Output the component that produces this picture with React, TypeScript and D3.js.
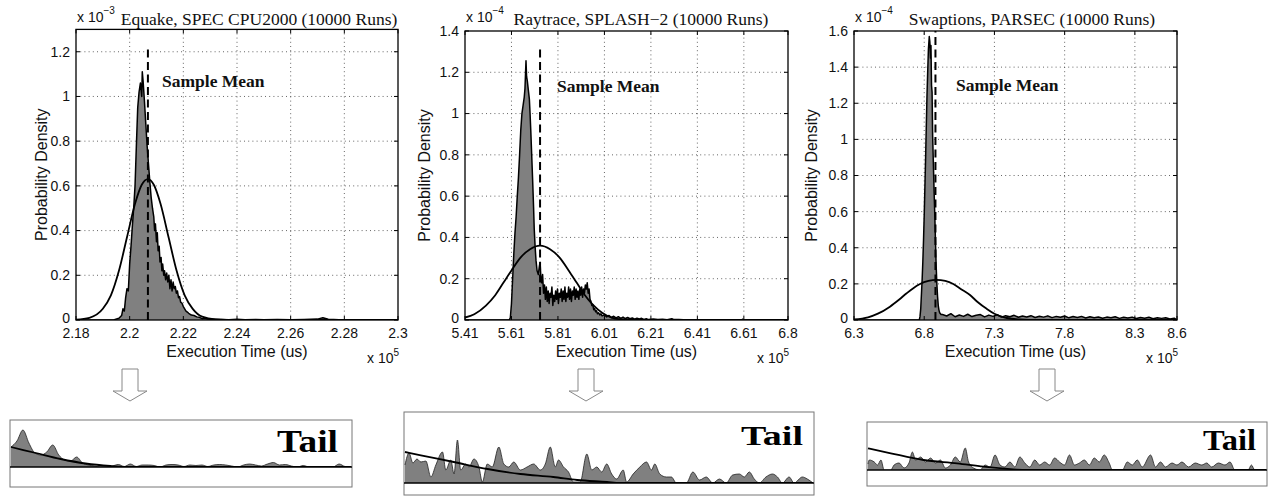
import React, { useEffect, useRef } from 'react'
import * as d3 from 'd3'

type Pt = [number, number]

// ---------- Equake (x in 1e5 us, density in 1e-3) ----------
const equakeXTicks = [2.18, 2.2, 2.22, 2.24, 2.26, 2.28, 2.3]
const equakeYTicks = [0, 0.2, 0.4, 0.6, 0.8, 1, 1.2]
const equakeHist: Pt[] = [
  [2.18, 0], [2.194, 0], [2.196, 0.008], [2.197, 0.02], [2.1975, 0.05], [2.198, 0.04], [2.1985, 0.1],
  [2.199, 0.14], [2.1995, 0.13], [2.2, 0.25], [2.2005, 0.33], [2.201, 0.42], [2.2015, 0.5], [2.202, 0.6],
  [2.2025, 0.78], [2.203, 0.95], [2.2035, 1.02], [2.204, 1.06], [2.2045, 1.0], [2.2047, 1.11], [2.205, 1.07],
  [2.2055, 0.98], [2.206, 0.88], [2.2065, 0.78], [2.207, 0.7], [2.2075, 0.62], [2.208, 0.55], [2.2085, 0.5],
  [2.209, 0.46], [2.2093, 0.4], [2.2096, 0.43], [2.21, 0.35], [2.2103, 0.39], [2.2106, 0.31], [2.211, 0.33],
  [2.2113, 0.26], [2.2117, 0.28], [2.212, 0.22], [2.2123, 0.25], [2.2127, 0.2], [2.213, 0.22], [2.2134, 0.18],
  [2.2138, 0.21], [2.2142, 0.17], [2.2146, 0.2], [2.215, 0.14], [2.2154, 0.18], [2.2158, 0.13], [2.2162, 0.17],
  [2.2166, 0.14], [2.217, 0.15], [2.2174, 0.12], [2.2178, 0.13], [2.2182, 0.1], [2.2186, 0.105], [2.219, 0.08],
  [2.2195, 0.075], [2.22, 0.06], [2.2205, 0.05], [2.221, 0.04], [2.2215, 0.035], [2.222, 0.03], [2.223, 0.022],
  [2.224, 0.02], [2.225, 0.014], [2.226, 0.012], [2.227, 0.006], [2.228, 0.008], [2.229, 0.004], [2.231, 0.003],
  [2.234, 0.002], [2.237, 0.001], [2.24, 0.003], [2.243, 0.001], [2.247, 0.002], [2.25, 0.001], [2.255, 0.002],
  [2.26, 0.001], [2.265, 0.002], [2.27, 0.004], [2.272, 0.01], [2.274, 0.003], [2.278, 0.001], [2.285, 0.001],
  [2.29, 0], [2.3, 0],
]
const equakeNormal: Pt[] = [
  [2.18, 0.002], [2.185, 0.01], [2.19, 0.05], [2.193, 0.11], [2.196, 0.22], [2.199, 0.37], [2.202, 0.52],
  [2.2045, 0.605], [2.2068, 0.63], [2.209, 0.605], [2.2115, 0.52], [2.2145, 0.37], [2.2175, 0.22],
  [2.2205, 0.11], [2.2235, 0.05], [2.227, 0.015], [2.232, 0.003], [2.24, 0], [2.3, 0],
]

// ---------- Raytrace (x in 1e5 us, density in 1e-4) ----------
const raytraceXTicks = [5.41, 5.61, 5.81, 6.01, 6.21, 6.41, 6.61, 6.8]
const raytraceYTicks = [0, 0.2, 0.4, 0.6, 0.8, 1, 1.2, 1.4]
const raytraceHist: Pt[] = [
  [5.41, 0], [5.6, 0], [5.605, 0.01], [5.61, 0.08], [5.615, 0.2], [5.62, 0.32], [5.625, 0.42], [5.63, 0.5],
  [5.635, 0.6], [5.64, 0.69], [5.645, 0.8], [5.65, 0.92], [5.655, 1.0], [5.66, 1.04], [5.665, 1.08],
  [5.668, 1.12], [5.6725, 1.256], [5.675, 1.18], [5.678, 1.16], [5.682, 1.12], [5.687, 1.07], [5.69, 1.0],
  [5.693, 0.92], [5.697, 0.8], [5.701, 0.68], [5.705, 0.55], [5.708, 0.44], [5.712, 0.35], [5.7155, 0.29],
  [5.72, 0.24], [5.7255, 0.22], [5.73, 0.26], [5.733, 0.28], [5.737, 0.2],
  [5.74, 0.18], [5.744, 0.22], [5.748, 0.13], [5.752, 0.17], [5.756, 0.1], [5.76, 0.16], [5.764, 0.09],
  [5.768, 0.14], [5.772, 0.08], [5.776, 0.13], [5.78, 0.11], [5.784, 0.16], [5.788, 0.07], [5.792, 0.12],
  [5.796, 0.09], [5.8, 0.14], [5.804, 0.1], [5.808, 0.15], [5.812, 0.08], [5.816, 0.13], [5.82, 0.11],
  [5.824, 0.15], [5.828, 0.09], [5.832, 0.14], [5.836, 0.1], [5.84, 0.16], [5.844, 0.09], [5.848, 0.13],
  [5.852, 0.11], [5.856, 0.16], [5.86, 0.1], [5.864, 0.15], [5.868, 0.09], [5.872, 0.14], [5.876, 0.12],
  [5.88, 0.16], [5.884, 0.1], [5.888, 0.15], [5.892, 0.11], [5.896, 0.14], [5.9, 0.1], [5.904, 0.15],
  [5.908, 0.12], [5.912, 0.16], [5.916, 0.11], [5.92, 0.15], [5.924, 0.13], [5.928, 0.17], [5.932, 0.15],
  [5.936, 0.18], [5.94, 0.13], [5.944, 0.15], [5.948, 0.1], [5.952, 0.09], [5.956, 0.07], [5.96, 0.075],
  [5.964, 0.05], [5.968, 0.055], [5.972, 0.04], [5.976, 0.045], [5.98, 0.03], [5.985, 0.035], [5.99, 0.025],
  [5.995, 0.03], [6.0, 0.02], [6.01, 0.025], [6.02, 0.015], [6.03, 0.022], [6.04, 0.012], [6.05, 0.018],
  [6.06, 0.01], [6.07, 0.016], [6.08, 0.008], [6.09, 0.014], [6.1, 0.007], [6.11, 0.012], [6.12, 0.006],
  [6.13, 0.01], [6.14, 0.004], [6.15, 0.009], [6.16, 0.005], [6.17, 0.008], [6.18, 0.003], [6.19, 0.006],
  [6.2, 0.002], [6.22, 0.005], [6.24, 0.002], [6.26, 0.004], [6.28, 0.001], [6.3, 0.006], [6.31, 0.002],
  [6.33, 0.003], [6.35, 0.001], [6.4, 0.001], [6.45, 0], [6.6, 0], [6.605, 0.004], [6.61, 0], [6.8, 0],
]
const raytraceNormal: Pt[] = [
  [5.41, 0.012], [5.45, 0.028], [5.5, 0.07], [5.54, 0.12], [5.575, 0.18], [5.61, 0.24], [5.647, 0.3],
  [5.69, 0.343], [5.733, 0.36], [5.776, 0.343], [5.819, 0.3], [5.856, 0.24], [5.891, 0.18], [5.926, 0.12],
  [5.962, 0.072], [6.0, 0.035], [6.04, 0.012], [6.09, 0.003], [6.2, 0], [6.8, 0],
]

// ---------- Swaptions (x in 1e5 us, density in 1e-4) ----------
const swaptionsXTicks = [6.3, 6.8, 7.3, 7.8, 8.3, 8.6]
const swaptionsYTicks = [0, 0.2, 0.4, 0.6, 0.8, 1, 1.2, 1.4, 1.6]
const swaptionsHist: Pt[] = [
  [6.3, 0], [6.765, 0], [6.77, 0.02], [6.775, 0.06], [6.78, 0.14], [6.785, 0.22], [6.79, 0.32], [6.795, 0.44],
  [6.8, 0.58], [6.805, 0.74], [6.81, 0.9], [6.815, 1.08], [6.82, 1.25], [6.825, 1.38], [6.83, 1.5],
  [6.836, 1.569], [6.84, 1.54], [6.845, 1.45], [6.848, 1.52], [6.852, 1.3], [6.856, 1.26], [6.86, 1.02],
  [6.865, 0.87], [6.87, 0.72], [6.875, 0.59], [6.88, 0.44], [6.885, 0.3], [6.89, 0.2], [6.895, 0.13],
  [6.9, 0.08], [6.905, 0.055], [6.91, 0.04], [6.92, 0.03],
  [6.93, 0.03], [6.96, 0.022], [6.99, 0.035], [7.02, 0.018], [7.05, 0.028], [7.08, 0.02], [7.11, 0.032],
  [7.14, 0.019], [7.17, 0.026], [7.2, 0.03], [7.23, 0.017], [7.26, 0.027], [7.29, 0.02], [7.32, 0.029],
  [7.35, 0.016], [7.38, 0.024], [7.41, 0.018], [7.44, 0.026], [7.47, 0.015], [7.5, 0.022], [7.53, 0.017],
  [7.56, 0.024], [7.59, 0.014], [7.62, 0.021], [7.65, 0.016], [7.68, 0.023], [7.71, 0.013], [7.74, 0.02],
  [7.77, 0.015], [7.8, 0.022], [7.83, 0.012], [7.86, 0.019], [7.89, 0.014], [7.92, 0.02], [7.95, 0.011],
  [7.98, 0.018], [8.01, 0.013], [8.04, 0.017], [8.07, 0.01], [8.1, 0.016], [8.13, 0.012], [8.16, 0.018],
  [8.19, 0.009], [8.22, 0.015], [8.25, 0.011], [8.28, 0.016], [8.31, 0.008], [8.34, 0.014], [8.37, 0.01],
  [8.4, 0.015], [8.43, 0.007], [8.46, 0.013], [8.49, 0.009], [8.52, 0.012], [8.55, 0.006], [8.58, 0.01],
  [8.6, 0],
]
const swaptionsNormal: Pt[] = [
  [6.3, 0.003], [6.4, 0.015], [6.47, 0.035], [6.556, 0.074], [6.62, 0.112], [6.675, 0.148], [6.72, 0.175],
  [6.77, 0.199], [6.83, 0.216], [6.885, 0.222], [6.95, 0.216], [7.007, 0.199], [7.06, 0.172], [7.126, 0.138],
  [7.18, 0.1], [7.245, 0.062], [7.3, 0.035], [7.363, 0.016], [7.42, 0.007], [7.482, 0.003], [7.6, 0], [8.6, 0],
]

// ---------- magnified tails (tail position, height) ----------
const equakeTail: Pt[] = [
  [0, 20], [6, 26], [12, 37], [18, 24], [24, 14], [30, 12], [36, 15], [42, 22], [48, 12], [54, 7], [60, 6],
  [66, 10], [72, 4], [78, 2], [84, 1], [90, 0], [96, 0], [102, 1], [108, 2.5], [114, 0.5], [120, 3], [126, 0.5],
  [132, 2], [138, 2], [144, 1.5], [150, 0], [156, 2], [162, 2.5], [168, 2], [174, 0.5], [180, 2], [186, 1.5],
  [192, 2], [198, 0.5], [204, 2], [210, 2.5], [216, 2], [222, 1], [228, 0], [234, 2], [240, 3], [246, 2],
  [252, 1], [258, 3], [264, 4.5], [270, 2], [276, 2.5], [282, 1], [288, 0], [294, 1.5], [300, 0], [324, 0],
  [330, 3], [336, 0.5], [342, 0],
]
const equakeTailFit: Pt[] = [[0, 20], [25, 14], [50, 8], [75, 3.5], [100, 1], [120, 0], [342, 0]]

const raytraceTail: Pt[] = [
  [0, 18], [4, 30], [8, 20], [12, 24], [16, 21], [21, 22], [26, 6], [31, 18], [37.7, 31], [41, 13], [46, 23],
  [49.3, 9], [52.7, 43], [56, 13], [61, 19], [64.3, 16], [69.3, 24], [74.3, 16], [77.7, 1], [82.7, 19],
  [87.7, 16], [94.3, 36], [99.3, 19], [104.3, 16], [109.3, 21], [116, 13], [122.7, 16], [129.3, 19], [136, 13],
  [141, 19], [146, 36], [151, 16], [154.3, 23], [159.3, 16], [164.3, 11], [169.3, 1], [176, 1], [182.7, 29],
  [187.7, 13], [192.7, 16], [197.7, 11], [202.7, 19], [207.7, 9], [212.7, 4], [219.3, 13], [222.7, 1],
  [229.3, 9], [236, 16], [242.7, 21], [247.7, 13], [251, 19], [256, 9], [262.7, 6], [267.7, 6], [272.7, 0],
  [282.7, 0], [289.3, 11], [296, 3], [302.7, 6], [309.3, 0], [316, 4], [322.7, 0], [329.3, 8], [336, 9],
  [341, 6], [346, 11], [351, 4], [356, 0], [362.7, 6], [369.3, 9], [374.3, 6], [379.3, 0], [386, 6], [391, 0],
  [399.3, 6], [404.3, 4], [410, 0],
]
const raytraceTailFit: Pt[] = [
  [0, 31], [16, 27.7], [49, 21], [83, 14], [116, 9], [149, 6], [173, 3], [203, 1], [216, 0], [410, 0],
]

const swaptionsTail: Pt[] = [
  [0, 6], [1.3, 10], [6.3, 8], [9.7, 5], [13, 10], [16.3, 0], [23, 0], [26.3, 5], [31.3, 7], [36.3, 2],
  [41.3, 7], [44.7, 18], [48, 10], [53, 13], [58, 8], [63, 12], [68, 7], [73, 10], [78, 2], [83, 5], [88, 13],
  [93, 8], [98, 22], [101.3, 8], [106.3, 2], [113, 0], [118, 5], [123, 3], [128, 15], [133, 5], [138, 3],
  [143, 8], [148, 3], [153, 13], [158, 7], [163, 3], [168, 10], [173, 5], [178, 8], [183, 5], [188, 12],
  [193, 8], [198, 5], [203, 15], [208, 5], [213, 7], [218, 10], [223, 5], [228, 12], [233, 8], [238, 15],
  [243, 7], [246.3, 0], [256.3, 0], [261.3, 8], [266.3, 5], [271.3, 10], [276.3, 3], [284.7, 15], [289.7, 3],
  [294.7, 8], [299.7, 3], [306.3, 7], [311.3, 5], [316.3, 8], [323, 3], [329.7, 7], [336.3, 5], [341.3, 7],
  [346.3, 3], [353, 7], [359.7, 5], [364.7, 8], [369.7, 0], [383, 0], [386.3, 5], [389.7, 0], [401, 0],
]
const swaptionsTailFit: Pt[] = [
  [0, 21.7], [23, 16.7], [56, 10], [89.7, 6.7], [116.3, 3.3], [146.3, 0.7], [159.7, 0], [401, 0],
]

const SANS = "'Liberation Sans', Arial, Helvetica, sans-serif"
const SERIF = "'Liberation Serif', 'Times New Roman', Times, serif"
const GRAY = '#808080'
const BOTTOM = 320

const panels = [
  {
    title: 'Equake, SPEC CPU2000 (10000 Runs)', exp: '\u22123', titleX: 259, ylabelX: 41,
    left: 76, right: 398, top: 29.4, yMax: 1.3, xTicks: equakeXTicks, yTicks: equakeYTicks,
    hist: equakeHist, normal: equakeNormal, mean: 2.2068, meanTop: 1.22, meanLabelX: 162, meanLabelY: 87,
  },
  {
    title: 'Raytrace, SPLASH\u22122 (10000 Runs)', exp: '\u22124', titleX: 641, ylabelX: 424,
    left: 465, right: 788, top: 31, yMax: 1.4, xTicks: raytraceXTicks, yTicks: raytraceYTicks,
    hist: raytraceHist, normal: raytraceNormal, mean: 5.733, meanTop: 1.33, meanLabelX: 557, meanLabelY: 92,
  },
  {
    title: 'Swaptions, PARSEC (10000 Runs)', exp: '\u22124', titleX: 1032, ylabelX: 811,
    left: 854, right: 1177, top: 31, yMax: 1.6, xTicks: swaptionsXTicks, yTicks: swaptionsYTicks,
    hist: swaptionsHist, normal: swaptionsNormal, mean: 6.88, meanTop: 1.6, meanLabelX: 956, meanLabelY: 91,
  },
]

const tails = [
  { data: equakeTail, fit: equakeTailFit, left: 10, right: 352, top: 420, bottom: 487, base: 467,
    arrowX: 130, tailRight: 338, tailBase: 452, tailW: 61, tailSize: 32 },
  { data: raytraceTail, fit: raytraceTailFit, left: 404, right: 814, top: 412, bottom: 495, base: 483,
    arrowX: 586, tailRight: 803, tailBase: 444.5, tailW: 62, tailSize: 27 },
  { data: swaptionsTail, fit: swaptionsTailFit, left: 867, right: 1267, top: 422, bottom: 486, base: 470,
    arrowX: 1047, tailRight: 1256, tailBase: 450, tailW: 53, tailSize: 30 },
]

const fmt = d3.format('~g')

export default function App() {
  const ref = useRef<SVGSVGElement>(null)

  useEffect(() => {
    const svg = d3.select(ref.current)
    svg.selectAll('*').remove()

    panels.forEach((p, i) => {
      const xDom = [p.xTicks[0], p.xTicks[p.xTicks.length - 1]]
      const x = d3.scaleLinear().domain(xDom).range([p.left, p.right])
      const y = d3.scaleLinear().domain([0, p.yMax]).range([BOTTOM, p.top])
      const top = p.top
      const g = svg.append('g')

      g.append('clipPath').attr('id', 'clip' + i)
        .append('rect').attr('x', p.left).attr('y', top).attr('width', p.right - p.left).attr('height', BOTTOM - top)

      // dotted grid
      const grid = g.append('g').attr('stroke', '#555').attr('stroke-width', 0.9).attr('stroke-dasharray', '1,3.2')
      p.xTicks.filter(t => t !== xDom[0] && t !== xDom[1]).forEach(t => {
        grid.append('line').attr('x1', x(t)).attr('x2', x(t)).attr('y1', BOTTOM).attr('y2', top)
      })
      p.yTicks.filter(t => t !== 0 && t !== p.yMax).forEach(t => {
        grid.append('line').attr('x1', p.left).attr('x2', p.right).attr('y1', y(t)).attr('y2', y(t))
      })

      const plot = g.append('g').attr('clip-path', `url(#clip${i})`)
      const area = d3.area<Pt>().x(d => x(d[0])).y0(BOTTOM).y1(d => y(d[1]))
      const line = d3.line<Pt>().x(d => x(d[0])).y(d => y(d[1]))
      plot.append('path').attr('d', area(p.hist)).attr('fill', GRAY)
      plot.append('path').attr('d', line(p.hist)).attr('fill', 'none').attr('stroke', '#000')
        .attr('stroke-width', 1.5).attr('stroke-linejoin', 'round')
      plot.append('path').attr('d', line.curve(d3.curveMonotoneX)(p.normal)).attr('fill', 'none')
        .attr('stroke', '#000').attr('stroke-width', 1.8)
      plot.append('line').attr('x1', x(p.mean)).attr('x2', x(p.mean)).attr('y1', y(0)).attr('y2', y(p.meanTop))
        .attr('stroke', '#000').attr('stroke-width', 2).attr('stroke-dasharray', '8,4.5')

      // frame + inward ticks
      g.append('rect').attr('x', p.left).attr('y', top).attr('width', p.right - p.left).attr('height', BOTTOM - top)
        .attr('fill', 'none').attr('stroke', '#000').attr('stroke-width', 1.3)
      const ticks = g.append('g').attr('stroke', '#000').attr('stroke-width', 1)
      p.xTicks.forEach(t => {
        ticks.append('line').attr('x1', x(t)).attr('x2', x(t)).attr('y1', BOTTOM).attr('y2', BOTTOM - 4)
        ticks.append('line').attr('x1', x(t)).attr('x2', x(t)).attr('y1', top).attr('y2', top + 4)
      })
      p.yTicks.forEach(t => {
        ticks.append('line').attr('x1', p.left).attr('x2', p.left + 4).attr('y1', y(t)).attr('y2', y(t))
        ticks.append('line').attr('x1', p.right).attr('x2', p.right - 4).attr('y1', y(t)).attr('y2', y(t))
      })

      const txt = g.append('g').attr('font-family', SANS).attr('fill', '#111')
      p.xTicks.forEach(t => {
        txt.append('text').attr('x', x(t)).attr('y', 338).attr('text-anchor', 'middle')
          .attr('font-size', 14).text(fmt(t))
      })
      p.yTicks.forEach(t => {
        txt.append('text').attr('x', p.left - 6).attr('y', y(t)).attr('dy', t === 0 ? '0.2em' : '0.35em')
          .attr('text-anchor', 'end').attr('font-size', 14).text(fmt(t))
      })
      txt.append('text').attr('x', (p.left + p.right) / 2).attr('y', 357).attr('text-anchor', 'middle')
        .attr('font-size', 16).text('Execution Time (us)')
      txt.append('text').attr('transform', `translate(${p.ylabelX},${(top + BOTTOM) / 2}) rotate(-90)`)
        .attr('dy', '0.35em').attr('text-anchor', 'middle').attr('font-size', 16).text('Probability Density')

      const xe = txt.append('text').attr('x', p.right - 31).attr('y', 363).attr('font-size', 14)
      xe.append('tspan').text('x 10')
      xe.append('tspan').attr('dy', -7).attr('font-size', 10).text('5')

      const ye = txt.append('text').attr('x', p.left + 1).attr('y', 22).attr('font-size', 14)
      ye.append('tspan').text('x 10')
      ye.append('tspan').attr('dy', -8).attr('font-size', 10).text(p.exp)

      g.append('text').attr('x', p.titleX).attr('y', 25).attr('text-anchor', 'middle')
        .attr('font-family', SERIF).attr('font-size', 17.5).attr('fill', '#111').text(p.title)
      g.append('text').attr('x', p.meanLabelX).attr('y', p.meanLabelY).attr('font-family', SERIF)
        .attr('font-weight', 'bold').attr('font-size', 17.5).attr('fill', '#111').text('Sample Mean')
    })

    tails.forEach((t, i) => {
      const g = svg.append('g')
      const xt = d3.scaleLinear().domain(d3.extent(t.data, d => d[0]) as [number, number]).range([t.left + 1, t.right - 1])
      const yt = d3.scaleLinear().domain([0, 50]).range([t.base, t.base - 50])

      // hollow arrow
      const ax = t.arrowX
      g.append('path')
        .attr('d', `M${ax - 8},369 H${ax + 8} V391 H${ax + 17} L${ax},401 L${ax - 17},391 H${ax - 8} Z`)
        .attr('fill', '#fff').attr('stroke', '#888').attr('stroke-width', 1)

      g.append('clipPath').attr('id', 'tclip' + i)
        .append('rect').attr('x', t.left).attr('y', t.top).attr('width', t.right - t.left).attr('height', t.base - t.top)
      g.append('rect').attr('x', t.left).attr('y', t.top).attr('width', t.right - t.left).attr('height', t.bottom - t.top)
        .attr('fill', '#fff').attr('stroke', '#777').attr('stroke-width', 1)
      const inner = g.append('g').attr('clip-path', `url(#tclip${i})`)
      const area = d3.area<Pt>().x(d => xt(d[0])).y0(t.base).y1(d => yt(d[1])).curve(d3.curveMonotoneX)
      const line = d3.line<Pt>().x(d => xt(d[0])).y(d => yt(d[1])).curve(d3.curveMonotoneX)
      inner.append('path').attr('d', area(t.data)).attr('fill', GRAY)
      inner.append('path').attr('d', line(t.data)).attr('fill', 'none').attr('stroke', '#222').attr('stroke-width', 0.8)
      inner.append('path').attr('d', line(t.fit)).attr('fill', 'none').attr('stroke', '#000').attr('stroke-width', 1.8)
      g.append('line').attr('x1', t.left).attr('x2', t.right).attr('y1', t.base).attr('y2', t.base)
        .attr('stroke', '#000').attr('stroke-width', 1.6)
      g.append('text').attr('x', t.tailRight).attr('y', t.tailBase).attr('text-anchor', 'end')
        .attr('font-family', SERIF).attr('font-weight', 'bold').attr('font-size', t.tailSize)
        .attr('textLength', t.tailW).attr('lengthAdjust', 'spacingAndGlyphs').attr('fill', '#000').text('Tail')
    })
  }, [])

  return (
    <svg ref={ref} width={1269} height={498}
      style={{ position: 'absolute', left: 0, top: 0, background: '#fff' }} />
  )
}
